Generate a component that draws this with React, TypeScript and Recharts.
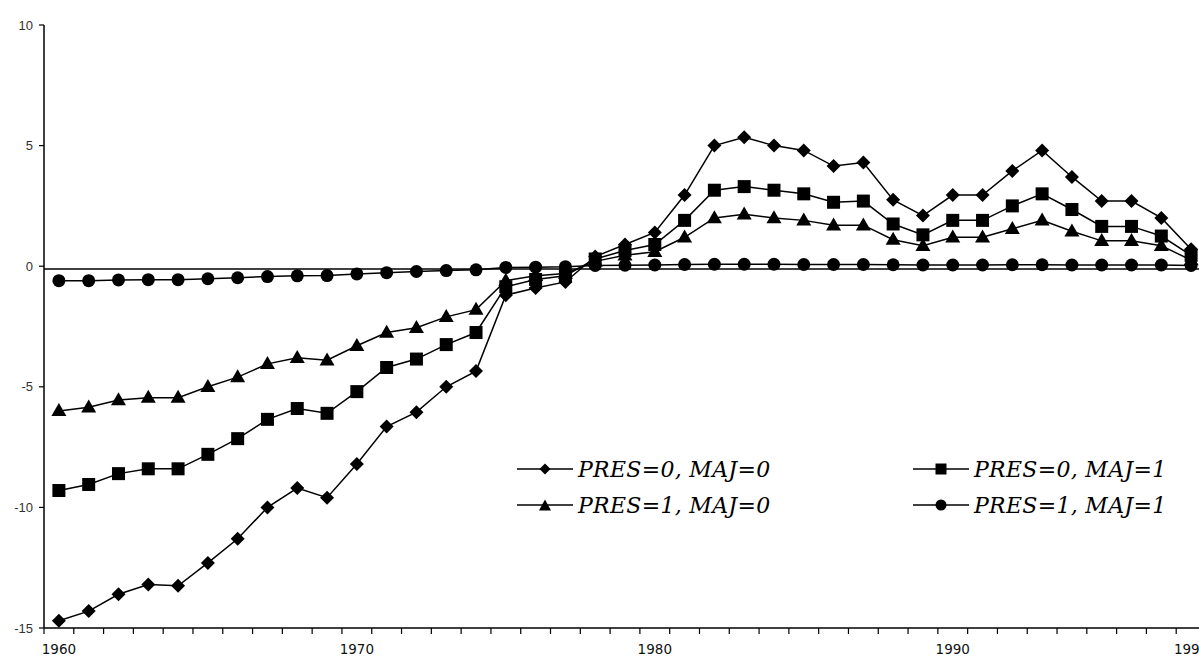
import React from "react";
import { LineChart, Line, XAxis, YAxis, ReferenceLine } from "recharts";

const years = [
  1960, 1961, 1962, 1963, 1964, 1965, 1966, 1967, 1968, 1969,
  1970, 1971, 1972, 1973, 1974, 1975, 1976, 1977, 1978, 1979,
  1980, 1981, 1982, 1983, 1984, 1985, 1986, 1987, 1988, 1989,
  1990, 1991, 1992, 1993, 1994, 1995, 1996, 1997, 1998,
];

// PRES=0, MAJ=0 (diamonds)
const pres0maj0 = [
  -14.7, -14.3, -13.6, -13.2, -13.25, -12.3, -11.3, -10.0, -9.2, -9.6,
  -8.2, -6.65, -6.05, -5.0, -4.35, -1.2, -0.9, -0.65, 0.4, 0.9,
  1.4, 2.95, 5.0, 5.35, 5.0, 4.8, 4.15, 4.3, 2.75, 2.1,
  2.95, 2.95, 3.95, 4.8, 3.7, 2.7, 2.7, 2.0, 0.7,
];

// PRES=0, MAJ=1 (squares)
const pres0maj1 = [
  -9.3, -9.05, -8.6, -8.4, -8.4, -7.8, -7.15, -6.35, -5.9, -6.1,
  -5.2, -4.2, -3.85, -3.25, -2.75, -0.85, -0.55, -0.4, 0.3, 0.65,
  0.9, 1.9, 3.15, 3.3, 3.15, 3.0, 2.65, 2.7, 1.75, 1.3,
  1.9, 1.9, 2.5, 3.0, 2.35, 1.65, 1.65, 1.25, 0.45,
];

// PRES=1, MAJ=0 (triangles)
const pres1maj0 = [
  -6.0, -5.85, -5.55, -5.45, -5.45, -5.0, -4.6, -4.05, -3.8, -3.9,
  -3.3, -2.75, -2.55, -2.1, -1.8, -0.6, -0.4, -0.3, 0.2, 0.45,
  0.6, 1.2, 2.0, 2.15, 2.0, 1.9, 1.7, 1.7, 1.1, 0.85,
  1.2, 1.2, 1.55, 1.9, 1.45, 1.05, 1.05, 0.85, 0.25,
];

// PRES=1, MAJ=1 (circles)
const pres1maj1 = [
  -0.6, -0.6, -0.57, -0.56, -0.56, -0.52, -0.48, -0.43, -0.4, -0.39,
  -0.32, -0.27, -0.22, -0.18, -0.15, -0.05, -0.04, -0.02, 0.03, 0.04,
  0.05, 0.07, 0.08, 0.08, 0.08, 0.07, 0.07, 0.07, 0.06, 0.05,
  0.05, 0.05, 0.06, 0.06, 0.05, 0.05, 0.05, 0.05, 0.03,
];

const xLabelYears = [1960, 1970, 1980, 1990, 1998];
const yTicks = [-15, -10, -5, 0, 5, 10];
const zeroLine = -0.12;

const rows = years.map((yr, i) => ({
  i,
  year: yr,
  a: pres0maj0[i],
  b: pres0maj1[i],
  c: pres1maj0[i],
  d: pres1maj1[i],
}));

// category boundaries, Excel style (ticks between categories)
const xTicks = [...years.map((_, i) => i - 0.5), years.length - 0.5];

const CHART_W = 1212;
const CHART_H = 657;
const Y_AXIS_W = 44;
const M_RIGHT = 6;
const STEP = (CHART_W - Y_AXIS_W - M_RIGHT) / years.length;

const Diamond = ({ cx, cy, r = 7 }: any) => (
  <path d={`M${cx},${cy - r}L${cx + r},${cy}L${cx},${cy + r}L${cx - r},${cy}Z`} fill="#000" />
);
const Square = ({ cx, cy, s = 13 }: any) => (
  <rect x={cx - s / 2} y={cy - s / 2} width={s} height={s} fill="#000" />
);
const Triangle = ({ cx, cy, w = 15, h = 13 }: any) => (
  <path
    d={`M${cx},${cy - h * 0.6}L${cx + w / 2},${cy + h * 0.4}L${cx - w / 2},${cy + h * 0.4}Z`}
    fill="#000"
  />
);
const Circle = ({ cx, cy, r = 6.5 }: any) => <circle cx={cx} cy={cy} r={r} fill="#000" />;

const XTick = (props: any) => {
  const { x, y, payload } = props;
  const idx = Math.round(payload.value + 0.5);
  const yr = years[idx];
  if (!xLabelYears.includes(yr)) return <g />;
  return (
    <text
      x={x + STEP / 2}
      y={y + 18}
      textAnchor="middle"
      fontFamily="'DejaVu Sans', sans-serif"
      fontSize={13.5}
      fill="#111"
    >
      {yr}
    </text>
  );
};

const legendItems = [
  { label: "PRES=0, MAJ=0", Mark: Diamond, left: 517, top: 457 },
  { label: "PRES=0, MAJ=1", Mark: Square, left: 913, top: 457 },
  { label: "PRES=1, MAJ=0", Mark: Triangle, left: 517, top: 493 },
  { label: "PRES=1, MAJ=1", Mark: Circle, left: 913, top: 493 },
];

function LegendOverlay() {
  return (
    <>
      {legendItems.map(({ label, Mark, left, top }) => (
        <div
          key={label}
          style={{ position: "absolute", left, top, display: "flex", alignItems: "center", height: 24 }}
        >
          <svg width={58} height={24}>
            <line x1={0} y1={12} x2={56} y2={12} stroke="#000" strokeWidth={1.5} />
            {Mark === Diamond && <Diamond cx={28} cy={12} r={5.5} />}
            {Mark === Square && <Square cx={28} cy={12} s={11} />}
            {Mark === Triangle && <Triangle cx={28} cy={13} w={12} h={11} />}
            {Mark === Circle && <Circle cx={28} cy={12} r={5.5} />}
          </svg>
          <span
            style={{
              fontFamily: "'DejaVu Serif', serif",
              fontStyle: "italic",
              fontSize: 22,
              letterSpacing: 0.3,
              color: "#000",
              whiteSpace: "nowrap",
              marginLeft: 3,
            }}
          >
            {label}
          </span>
        </div>
      ))}
    </>
  );
}

export default function App() {
  return (
    <div
      style={{
        position: "fixed",
        left: 0,
        top: 0,
        width: 1199,
        height: 657,
        overflow: "hidden",
        background: "#fff",
      }}
    >
      <LineChart
        width={CHART_W}
        height={CHART_H}
        data={rows}
        margin={{ top: 25, right: M_RIGHT, bottom: 0, left: 0 }}
      >
        <XAxis
          dataKey="i"
          type="number"
          domain={[-0.5, years.length - 0.5]}
          ticks={xTicks}
          interval={0}
          height={29}
          tickSize={6}
          tick={<XTick />}
          axisLine={{ stroke: "#000", strokeWidth: 1.5 }}
          tickLine={{ stroke: "#000", strokeWidth: 1.2 }}
        />
        <YAxis
          type="number"
          domain={[-15, 10]}
          ticks={yTicks}
          interval={0}
          width={Y_AXIS_W}
          tickSize={5}
          tickMargin={6}
          tick={{ fontFamily: "'Liberation Sans', Arial, sans-serif", fontSize: 13, fill: "#333" }}
          axisLine={{ stroke: "#000", strokeWidth: 1.5 }}
          tickLine={{ stroke: "#000", strokeWidth: 1.2 }}
        />
        <ReferenceLine y={zeroLine} stroke="#000" strokeWidth={1.5} />
        <Line
          dataKey="d"
          stroke="#000"
          strokeWidth={1.5}
          isAnimationActive={false}
          dot={(p: any) => <Circle key={`d${p.index}`} cx={p.cx} cy={p.cy} />}
        />
        <Line
          dataKey="c"
          stroke="#000"
          strokeWidth={1.5}
          isAnimationActive={false}
          dot={(p: any) => <Triangle key={`c${p.index}`} cx={p.cx} cy={p.cy} />}
        />
        <Line
          dataKey="b"
          stroke="#000"
          strokeWidth={1.5}
          isAnimationActive={false}
          dot={(p: any) => <Square key={`b${p.index}`} cx={p.cx} cy={p.cy} />}
        />
        <Line
          dataKey="a"
          stroke="#000"
          strokeWidth={1.5}
          isAnimationActive={false}
          dot={(p: any) => <Diamond key={`a${p.index}`} cx={p.cx} cy={p.cy} />}
        />
      </LineChart>
      <LegendOverlay />
    </div>
  );
}
